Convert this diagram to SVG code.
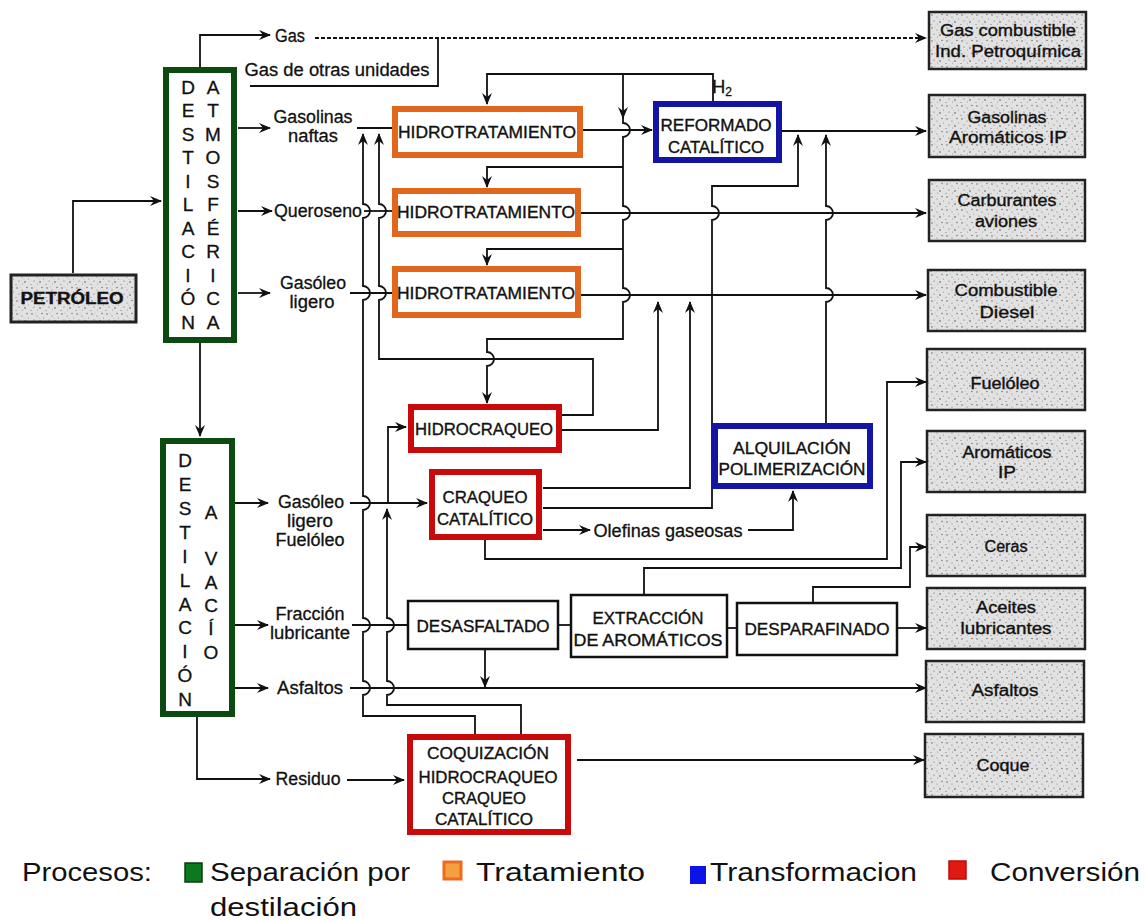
<svg xmlns="http://www.w3.org/2000/svg" width="1145" height="921" viewBox="0 0 1145 921">
<defs>
<style>
.ln{fill:none;stroke:#111;stroke-width:1.8}
.t{font-family:"Liberation Sans",Arial,sans-serif;font-size:16px;fill:#111;stroke:#111;stroke-width:0.35;text-anchor:middle;dominant-baseline:central}
.lt{font-family:"Liberation Sans",Arial,sans-serif;font-size:18px;fill:#111;stroke:#111;stroke-width:0.3;text-anchor:middle;dominant-baseline:central}
.lg{font-family:"Liberation Sans",Arial,sans-serif;font-size:26px;fill:#111;dominant-baseline:central}
.prod{fill:url(#st);stroke:#222;stroke-width:2.5}
.proc{fill:#fff;stroke:#111;stroke-width:2.5}
.grn{fill:#fff;stroke:#0d4a12;stroke-width:6}
.org{fill:#fff;stroke:#e0671c;stroke-width:6}
.blu{fill:#fff;stroke:#1515a5;stroke-width:6}
.red{fill:#fff;stroke:#c80a0a;stroke-width:6}
</style>
<marker id="a" viewBox="0 0 12 10" refX="11" refY="5" markerWidth="12" markerHeight="10" markerUnits="userSpaceOnUse" orient="auto">
<path d="M0,0 L12,5 L0,10 L4,5 z" fill="#111"/>
</marker>
<pattern id="st" width="15" height="13" patternUnits="userSpaceOnUse">
<rect width="15" height="13" fill="#e2e2e2"/>
<circle cx="2" cy="2" r="0.7" fill="#555"/>
<circle cx="7" cy="4" r="0.6" fill="#777"/>
<circle cx="12" cy="1.5" r="0.7" fill="#666"/>
<circle cx="4" cy="8" r="0.6" fill="#666"/>
<circle cx="10" cy="9" r="0.8" fill="#555"/>
<circle cx="13.5" cy="6" r="0.5" fill="#888"/>
<circle cx="1" cy="11.5" r="0.6" fill="#777"/>
<circle cx="7.5" cy="11" r="0.5" fill="#888"/>
<circle cx="5" cy="1" r="0.4" fill="#999"/>
<circle cx="9" cy="6.5" r="0.4" fill="#999"/>
</pattern>
</defs>
<rect width="1145" height="921" fill="#fff"/>

<g id="connectors">
<path class="ln" d="M73,273 V201 H161" marker-end="url(#a)"/>
<path class="ln" d="M200,67 V35 H270" marker-end="url(#a)"/>
<path class="ln" d="M315,38 H926" stroke-dasharray="4 2" marker-end="url(#a)"/>
<path class="ln" d="M250,86 H438 V38"/>
<path class="ln" d="M238,128 H270" marker-end="url(#a)"/>
<path class="ln" d="M238,211 H272" marker-end="url(#a)"/>
<path class="ln" d="M238,293 H270" marker-end="url(#a)"/>
<path class="ln" d="M357,128 H392"/>
<path class="ln" d="M364,211 H392"/>
<path class="ln" d="M350,293 H392"/>
<path class="ln" d="M713,101 V74 H487 V104" marker-end="url(#a)"/>
<path class="ln" d="M623,74 V118" marker-end="url(#a)"/>
<path class="ln" d="M623,117 V123 a7,7 0 0 1 0,14 V206 a7,7 0 0 1 0,14 V288 a7,7 0 0 1 0,14 V339 H487 V352 a7,7 0 0 1 0,14 V403" marker-end="url(#a)"/>
<path class="ln" d="M623,167 H487 V187" marker-end="url(#a)"/>
<path class="ln" d="M623,249 H487 V265" marker-end="url(#a)"/>
<path class="ln" d="M583,130 H652" marker-end="url(#a)"/>
<path class="ln" d="M782,131 H926" marker-end="url(#a)"/>
<path class="ln" d="M581,213 H926" marker-end="url(#a)"/>
<path class="ln" d="M581,295 H926" marker-end="url(#a)"/>
<path class="ln" d="M543,508 H712 V220 a7,7 0 0 0 0,-14 V186 H798 V135" marker-end="url(#a)"/>
<path class="ln" d="M826,423 V302 a7,7 0 0 0 0,-14 V220 a7,7 0 0 0 0,-14 V135" marker-end="url(#a)"/>
<path class="ln" d="M562,415 H593 V359 H379 V300 a7,7 0 0 0 0,-14 V218 a7,7 0 0 0 0,-14 V134" marker-end="url(#a)"/>
<path class="ln" d="M562,430 H658 V302" marker-end="url(#a)"/>
<path class="ln" d="M543,488 H690 V302" marker-end="url(#a)"/>
<path class="ln" d="M475,734 V716 H363 V695 a7,7 0 0 0 0,-14 V632 a7,7 0 0 0 0,-14 V510 a7,7 0 0 0 0,-14 V300 a7,7 0 0 0 0,-14 V218 a7,7 0 0 0 0,-14 V134" marker-end="url(#a)"/>
<path class="ln" d="M521,734 V705 H387 V695 a7,7 0 0 0 0,-14 V632 a7,7 0 0 0 0,-14 V509" marker-end="url(#a)"/>
<path class="ln" d="M388,503 V427 H406" marker-end="url(#a)"/>
<path class="ln" d="M200,343 V436" marker-end="url(#a)"/>
<path class="ln" d="M235,503 H268" marker-end="url(#a)"/>
<path class="ln" d="M350,503 H427" marker-end="url(#a)"/>
<path class="ln" d="M235,625 H268" marker-end="url(#a)"/>
<path class="ln" d="M352,625 H408"/>
<path class="ln" d="M235,688 H268" marker-end="url(#a)"/>
<path class="ln" d="M350,688 H926" marker-end="url(#a)"/>
<path class="ln" d="M485,649 V687" marker-end="url(#a)"/>
<path class="ln" d="M558,625 H571"/>
<path class="ln" d="M727,628 H737"/>
<path class="ln" d="M897,628 H926" marker-end="url(#a)"/>
<path class="ln" d="M197,717 V779 H270" marker-end="url(#a)"/>
<path class="ln" d="M347,780 H404" marker-end="url(#a)"/>
<path class="ln" d="M577,760 H924" marker-end="url(#a)"/>
<path class="ln" d="M543,530 H590" marker-end="url(#a)"/>
<path class="ln" d="M748,530 H793 V491" marker-end="url(#a)"/>
<path class="ln" d="M485,540 V559 H887 V382 H926" marker-end="url(#a)"/>
<path class="ln" d="M644,595 V568 H901 V462 H926" marker-end="url(#a)"/>
<path class="ln" d="M813,603 V587 H910 V547 H926" marker-end="url(#a)"/>
</g>

<g id="labels">
<text class="lt" x="290" y="36" textLength="30" lengthAdjust="spacingAndGlyphs">Gas</text>
<text class="lt" x="337" y="70" textLength="185" lengthAdjust="spacingAndGlyphs">Gas de otras unidades</text>
<text class="lt" x="313" y="117" textLength="79" lengthAdjust="spacingAndGlyphs">Gasolinas</text>
<text class="lt" x="313" y="136" textLength="50" lengthAdjust="spacingAndGlyphs">naftas</text>
<text class="lt" x="318" y="211" textLength="88" lengthAdjust="spacingAndGlyphs">Queroseno</text>
<text class="lt" x="313" y="283" textLength="66" lengthAdjust="spacingAndGlyphs">Gasóleo</text>
<text class="lt" x="312" y="302" textLength="45" lengthAdjust="spacingAndGlyphs">ligero</text>
<text class="lt" x="722" y="87">H<tspan dy="5" style="font-size:12px">2</tspan></text>
<text class="lt" x="311" y="502" textLength="66" lengthAdjust="spacingAndGlyphs">Gasóleo</text>
<text class="lt" x="310" y="521" textLength="46" lengthAdjust="spacingAndGlyphs">ligero</text>
<text class="lt" x="310" y="540" textLength="69" lengthAdjust="spacingAndGlyphs">Fuelóleo</text>
<text class="lt" x="310" y="614" textLength="69" lengthAdjust="spacingAndGlyphs">Fracción</text>
<text class="lt" x="310" y="633" textLength="80" lengthAdjust="spacingAndGlyphs">lubricante</text>
<text class="lt" x="310" y="688" textLength="66" lengthAdjust="spacingAndGlyphs">Asfaltos</text>
<text class="lt" x="308" y="779" textLength="65" lengthAdjust="spacingAndGlyphs">Residuo</text>
<text class="lt" x="668" y="531" textLength="149" lengthAdjust="spacingAndGlyphs">Olefinas gaseosas</text>
</g>

<g id="petroleo">
<rect x="11" y="275" width="125" height="47" fill="url(#st)" stroke="#222" stroke-width="3"/>
<text class="t" x="72" y="298" style="font-weight:bold" textLength="103" lengthAdjust="spacingAndGlyphs">PETRÓLEO</text>
</g>

<g id="destilacion-atmosferica">
<rect class="grn" x="166" y="70" width="68" height="270"/>
<g class="lt" style="font-size:19px">
<text x="188" y="87">D</text><text x="188" y="110">E</text><text x="188" y="134">S</text><text x="188" y="157">T</text><text x="188" y="181">I</text><text x="188" y="204">L</text><text x="188" y="228">A</text><text x="188" y="251">C</text><text x="188" y="275">I</text><text x="188" y="298">Ó</text><text x="188" y="322">N</text>
<text x="213" y="87">A</text><text x="213" y="110">T</text><text x="213" y="134">M</text><text x="213" y="157">O</text><text x="213" y="181">S</text><text x="213" y="204">F</text><text x="213" y="228">É</text><text x="213" y="251">R</text><text x="213" y="275">I</text><text x="213" y="298">C</text><text x="213" y="322">A</text>
</g>
</g>

<g id="destilacion-vacio">
<rect class="grn" x="163" y="441" width="69" height="273"/>
<g class="lt" style="font-size:19px">
<text x="185" y="460">D</text><text x="185" y="484">E</text><text x="185" y="508">S</text><text x="185" y="532">T</text><text x="185" y="556">I</text><text x="185" y="580">L</text><text x="185" y="604">A</text><text x="185" y="627">C</text><text x="185" y="651">I</text><text x="185" y="675">Ó</text><text x="185" y="699">N</text>
<text x="211" y="512">A</text><text x="211" y="558">V</text><text x="211" y="582">A</text><text x="211" y="605">C</text><text x="211" y="628">Í</text><text x="211" y="652">O</text>
</g>
</g>

<g id="hdt1"><rect class="org" x="395" y="109" width="185" height="46"/><text class="t" x="487" y="132" textLength="178" lengthAdjust="spacingAndGlyphs">HIDROTRATAMIENTO</text></g>
<g id="hdt2"><rect class="org" x="395" y="191" width="183" height="43"/><text class="t" x="486" y="212" textLength="178" lengthAdjust="spacingAndGlyphs">HIDROTRATAMIENTO</text></g>
<g id="hdt3"><rect class="org" x="395" y="269" width="183" height="46"/><text class="t" x="486" y="293" textLength="178" lengthAdjust="spacingAndGlyphs">HIDROTRATAMIENTO</text></g>

<g id="reformado"><rect class="blu" x="656" y="104" width="123" height="56"/>
<text class="t" x="716" y="125" textLength="111" lengthAdjust="spacingAndGlyphs">REFORMADO</text>
<text class="t" x="716" y="147" textLength="96" lengthAdjust="spacingAndGlyphs">CATALÍTICO</text></g>

<g id="alquilacion"><rect class="blu" x="715" y="426" width="155" height="60"/>
<text class="t" x="792" y="448" textLength="118" lengthAdjust="spacingAndGlyphs">ALQUILACIÓN</text>
<text class="t" x="792" y="469" textLength="147" lengthAdjust="spacingAndGlyphs">POLIMERIZACIÓN</text></g>

<g id="hidrocraqueo"><rect class="red" x="411" y="407" width="148" height="43"/>
<text class="t" x="484" y="429" textLength="138" lengthAdjust="spacingAndGlyphs">HIDROCRAQUEO</text></g>

<g id="craqueo"><rect class="red" x="432" y="472" width="107" height="65"/>
<text class="t" x="485" y="497" textLength="85" lengthAdjust="spacingAndGlyphs">CRAQUEO</text>
<text class="t" x="485" y="519" textLength="96" lengthAdjust="spacingAndGlyphs">CATALÍTICO</text></g>

<g id="coquizacion"><rect class="red" x="410" y="737" width="158" height="95"/>
<text class="t" x="488" y="753" textLength="122" lengthAdjust="spacingAndGlyphs">COQUIZACIÓN</text>
<text class="t" x="488" y="777" textLength="139" lengthAdjust="spacingAndGlyphs">HIDROCRAQUEO</text>
<text class="t" x="484" y="798" textLength="84" lengthAdjust="spacingAndGlyphs">CRAQUEO</text>
<text class="t" x="484" y="819" textLength="98" lengthAdjust="spacingAndGlyphs">CATALÍTICO</text></g>

<g id="desasfaltado"><rect class="proc" x="408" y="601" width="150" height="48"/>
<text class="t" x="483" y="626" textLength="133" lengthAdjust="spacingAndGlyphs">DESASFALTADO</text></g>
<g id="extraccion"><rect class="proc" x="571" y="595" width="156" height="62"/>
<text class="t" x="648" y="618" textLength="111" lengthAdjust="spacingAndGlyphs">EXTRACCIÓN</text>
<text class="t" x="648" y="640" textLength="149" lengthAdjust="spacingAndGlyphs">DE AROMÁTICOS</text></g>
<g id="desparafinado"><rect class="proc" x="737" y="603" width="160" height="52"/>
<text class="t" x="817" y="629" textLength="145" lengthAdjust="spacingAndGlyphs">DESPARAFINADO</text></g>

<g id="p-gas"><rect class="prod" x="929" y="12" width="157" height="57"/>
<text class="t" x="1008" y="30" textLength="136" lengthAdjust="spacingAndGlyphs">Gas combustible</text>
<text class="t" x="1008" y="51" textLength="146" lengthAdjust="spacingAndGlyphs">Ind. Petroquímica</text></g>
<g id="p-gasolinas"><rect class="prod" x="929" y="95" width="156" height="62"/>
<text class="t" x="1007" y="117" textLength="79" lengthAdjust="spacingAndGlyphs">Gasolinas</text>
<text class="t" x="1008" y="137" textLength="118" lengthAdjust="spacingAndGlyphs">Aromáticos IP</text></g>
<g id="p-carburantes"><rect class="prod" x="929" y="180" width="156" height="61"/>
<text class="t" x="1007" y="200" textLength="99" lengthAdjust="spacingAndGlyphs">Carburantes</text>
<text class="t" x="1006" y="221" textLength="62" lengthAdjust="spacingAndGlyphs">aviones</text></g>
<g id="p-diesel"><rect class="prod" x="928" y="270" width="157" height="61"/>
<text class="t" x="1006" y="290" textLength="103" lengthAdjust="spacingAndGlyphs">Combustible</text>
<text class="t" x="1007" y="312" textLength="55" lengthAdjust="spacingAndGlyphs">Diesel</text></g>
<g id="p-fueloleo"><rect class="prod" x="927" y="349" width="158" height="61"/>
<text class="t" x="1005" y="383" textLength="69" lengthAdjust="spacingAndGlyphs">Fuelóleo</text></g>
<g id="p-aromaticos"><rect class="prod" x="927" y="431" width="158" height="61"/>
<text class="t" x="1007" y="452" textLength="89" lengthAdjust="spacingAndGlyphs">Aromáticos</text>
<text class="t" x="1007" y="472" textLength="18" lengthAdjust="spacingAndGlyphs">IP</text></g>
<g id="p-ceras"><rect class="prod" x="927" y="515" width="158" height="61"/>
<text class="t" x="1006" y="546" textLength="43" lengthAdjust="spacingAndGlyphs">Ceras</text></g>
<g id="p-aceites"><rect class="prod" x="927" y="588" width="158" height="61"/>
<text class="t" x="1006" y="607" textLength="60" lengthAdjust="spacingAndGlyphs">Aceites</text>
<text class="t" x="1006" y="628" textLength="91" lengthAdjust="spacingAndGlyphs">lubricantes</text></g>
<g id="p-asfaltos"><rect class="prod" x="926" y="661" width="158" height="61"/>
<text class="t" x="1005" y="690" textLength="67" lengthAdjust="spacingAndGlyphs">Asfaltos</text></g>
<g id="p-coque"><rect class="prod" x="925" y="734" width="158" height="63"/>
<text class="t" x="1003" y="765" textLength="53" lengthAdjust="spacingAndGlyphs">Coque</text></g>

<g id="legend">
<text class="lg" x="22" y="872" textLength="130" lengthAdjust="spacingAndGlyphs">Procesos:</text>
<rect x="185" y="863" width="17" height="19" fill="#0b7a1f" stroke="#0a3d10" stroke-width="1.5"/>
<text class="lg" x="210" y="872" textLength="200" lengthAdjust="spacingAndGlyphs">Separación por</text>
<text class="lg" x="210" y="907" textLength="147" lengthAdjust="spacingAndGlyphs">destilación</text>
<rect x="444" y="862" width="17" height="17" fill="#f5a040" stroke="#ee6a20" stroke-width="3"/>
<text class="lg" x="476" y="872" textLength="169" lengthAdjust="spacingAndGlyphs">Tratamiento</text>
<rect x="690" y="866" width="16" height="18" fill="#0a14e6"/>
<text class="lg" x="710" y="872" textLength="207" lengthAdjust="spacingAndGlyphs">Transformacion</text>
<rect x="949" y="861" width="17" height="18" fill="#e01a10" stroke="#c00a0a" stroke-width="1.5"/>
<text class="lg" x="990" y="872" textLength="150" lengthAdjust="spacingAndGlyphs">Conversión</text>
</g>
</svg>
